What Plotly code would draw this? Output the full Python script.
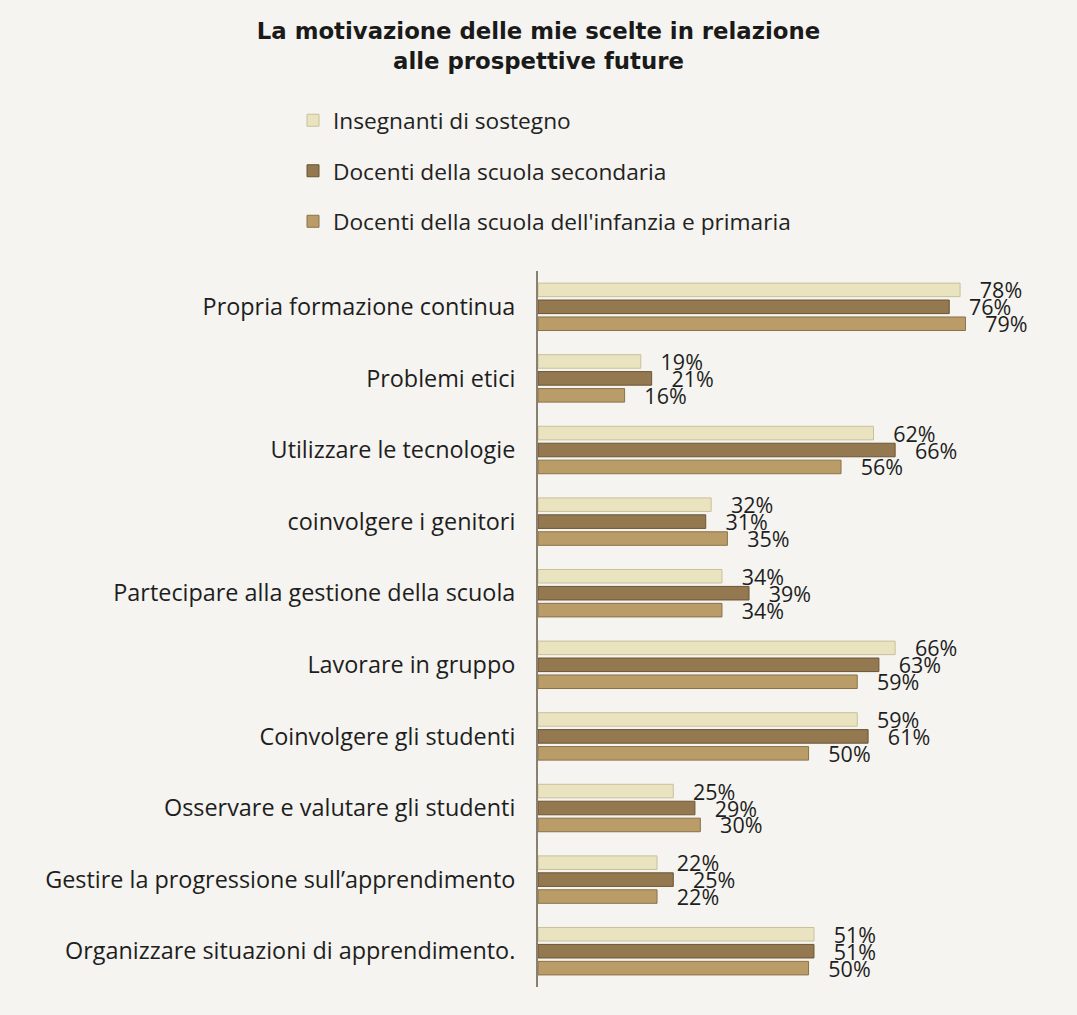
import plotly.graph_objects as go

categories = [
    "Propria formazione continua",
    "Problemi etici",
    "Utilizzare le tecnologie",
    "coinvolgere i genitori",
    "Partecipare alla gestione della scuola",
    "Lavorare in gruppo",
    "Coinvolgere gli studenti",
    "Osservare e valutare gli studenti",
    "Gestire la progressione sull\u2019apprendimento",
    "Organizzare situazioni di apprendimento.",
]
series_names = [
    "Insegnanti di sostegno",
    "Docenti della scuola secondaria",
    "Docenti della scuola dell'infanzia e primaria",
]
sostegno = [78, 19, 62, 32, 34, 66, 59, 25, 22, 51]
secondaria = [76, 21, 66, 31, 39, 63, 61, 29, 25, 51]
infanzia_primaria = [79, 16, 56, 35, 34, 59, 50, 30, 22, 50]

colors = ["#e9e3bf", "#937850", "#b99c67"]
line_colors = ["#c9c09a", "#6a5534", "#8a7248"]
FONT = "Open Sans"

fig = go.Figure()
for i, (name, vals) in enumerate(zip(series_names, [sostegno, secondaria, infanzia_primaria])):
    fig.add_trace(go.Bar(
        y=categories, x=vals, name=name, orientation="h",
        marker=dict(color=colors[i], line=dict(color=line_colors[i], width=1)),
        text=[f"\u00a0\u00a0\u00a0{v}%" for v in vals],
        textposition="outside", constraintext="none", cliponaxis=False,
        textfont=dict(family=FONT, size=21.5, color="#1e1e1e"),
        legendgroup=f"g{i}",
        hoverinfo="x+y",
    ))

fig.update_layout(
    width=1077, height=1015,
    paper_bgcolor="#f5f4f0", plot_bgcolor="#f5f4f0",
    barmode="group", bargap=0.29, bargroupgap=0.2,
    margin=dict(l=538, r=52, t=271, b=28, autoexpand=False),
    title=dict(
        text="<b>La motivazione delle mie scelte in relazione<br>alle prospettive future</b>",
        x=0.5, xref="container", xanchor="center",
        y=1 - 39 / 1015, yref="container", yanchor="top",
        font=dict(family="DejaVu Sans", size=22.8, color="#1a1a1a"),
    ),
    legend=dict(
        xref="container", yref="container", x=293 / 1077, y=1 - 99 / 1015,
        xanchor="left", yanchor="top", tracegroupgap=18,
        font=dict(family=FONT, size=22.7, color="#222"),
        bgcolor="rgba(0,0,0,0)", itemwidth=30,
    ),
    showlegend=True,
    xaxis=dict(range=[0, 90], visible=False, fixedrange=True),
    yaxis=dict(
        autorange="reversed", showline=True, linecolor="#8a8070", linewidth=2,
        ticks="", ticklabelstandoff=16, showgrid=False,
        tickfont=dict(family=FONT, size=23.4, color="#1e1e1e"),
    ),
)

fig.write_html("out.html")
